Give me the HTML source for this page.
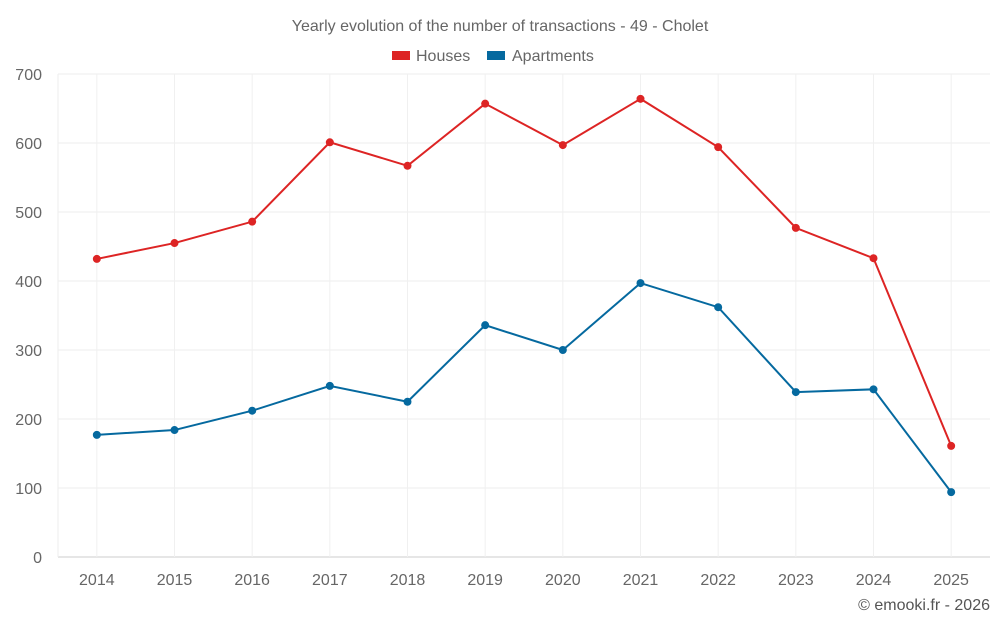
<!DOCTYPE html>
<html><head><meta charset="utf-8"><style>
body{margin:0;background:#fff;width:1000px;height:625px;overflow:hidden;font-family:"Liberation Sans",sans-serif}
</style></head><body>
<svg id="chart" width="1000" height="625" xmlns="http://www.w3.org/2000/svg" font-family="Liberation Sans, sans-serif">
<text x="500" y="31" text-anchor="middle" font-size="16" fill="#666">Yearly evolution of the number of transactions - 49 - Cholet</text>
<g>
<g><rect x="392" y="51" width="18" height="9" fill="#dd2424"/><text x="416" y="61" font-size="16" fill="#666">Houses</text></g>
<g><rect x="487" y="51" width="18" height="9" fill="#05699f"/><text x="512" y="61" font-size="16" fill="#666">Apartments</text></g>
</g>
<g id="grid"></g>
<g id="axes"></g>
<g id="series"></g>
<text x="990" y="610" text-anchor="end" font-size="16" fill="#555">© emooki.fr - 2026</text>
</svg>
<script>
const years=["2014","2015","2016","2017","2018","2019","2020","2021","2022","2023","2024","2025"];
const houses=[432,455,486,601,567,657,597,664,594,477,433,161];
const apartments=[177,184,212,248,225,336,300,397,362,239,243,94];
const yTicks=[0,100,200,300,400,500,600,700];
const NS="http://www.w3.org/2000/svg";
const L=58,R=990,T=74,B=557,yMax=700;
const step=(R-L)/years.length;
const xs=i=>L+step*(i+0.5);
const ys=v=>B-(v/yMax)*(B-T);
function mk(tag,attrs,parent){const e=document.createElementNS(NS,tag);for(const k in attrs)e.setAttribute(k,attrs[k]);parent.appendChild(e);return e;}
const grid=document.getElementById('grid'),axes=document.getElementById('axes'),series=document.getElementById('series');
yTicks.forEach(t=>{
  const l=mk('line',{x1:L,x2:R,y1:ys(t),y2:ys(t),stroke:t===0?'#ccc':'#eee'},grid);
  
  
  const tx=mk('text',{x:42,y:ys(t)+6,'text-anchor':'end','font-size':16,fill:'#666'},axes);
  tx.textContent=t;
  
  
});
mk('line',{x1:L,x2:L,y1:T,y2:B,stroke:'#eee'},grid);
years.forEach((y,i)=>{
  const l=mk('line',{x1:xs(i),x2:xs(i),y1:T,y2:B,stroke:'#f0f0f0'},grid);
  
  
  const tx=mk('text',{x:xs(i),y:585,'text-anchor':'middle','font-size':16,fill:'#666'},axes);
  tx.textContent=y;
  
  
});
function draw(vals,color,name){
  const p=mk('polyline',{points:vals.map((v,i)=>xs(i)+','+ys(v)).join(' '),fill:'none',stroke:color,'stroke-width':2},series);
  
  
  vals.forEach((v,i)=>{
    const c=mk('circle',{cx:xs(i),cy:ys(v),r:4,fill:color},series);
    
    
  });
}
draw(houses,'#dd2424','houses');
draw(apartments,'#05699f','apartments');
</script>
</body></html>
